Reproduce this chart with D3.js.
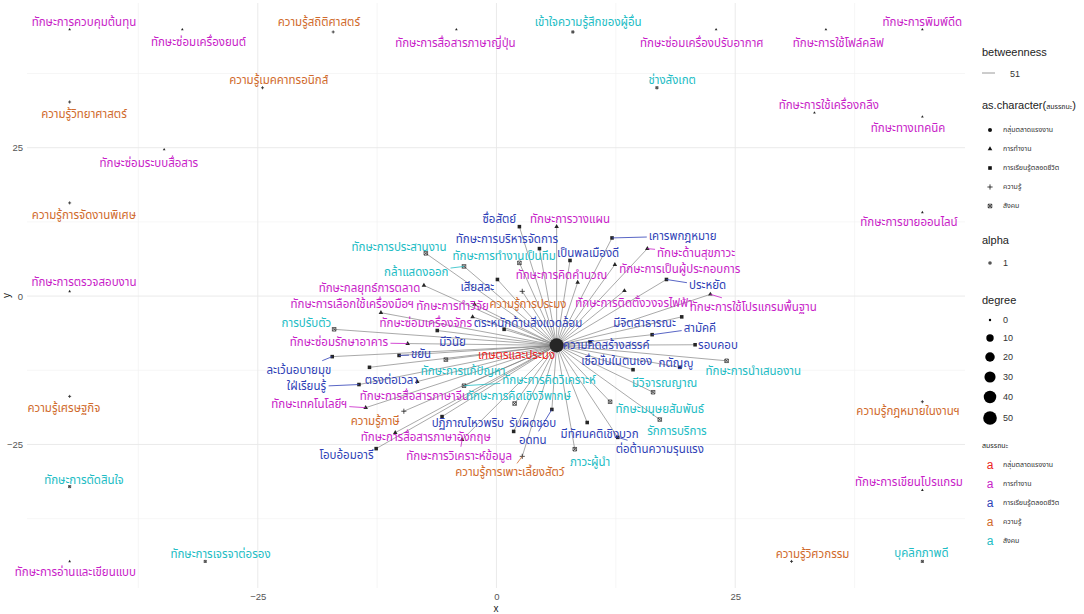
<!DOCTYPE html>
<html>
<head>
<meta charset="utf-8">
<script src="https://cdn.jsdelivr.net/npm/d3@7"></script>
<style>
  body { margin: 0; background: #fff; }
  svg { display: block; }
  .thai { font-family: "Noto Sans Thai", "Noto Sans Thai Looped", "Tahoma", "Leelawadee UI", "Garuda", "Loma", sans-serif; }
  .latin { font-family: "Liberation Sans", Arial, "DejaVu Sans", sans-serif; }
</style>
</head>
<body>
<svg id="chart" width="1084" height="614"></svg>
<script>
// ---- competency categories (สมรรถนะ) ----
const categories = ["กลุ่มตลาดแรงงาน", "การทำงาน", "การเรียนรู้ตลอดชีวิต", "ความรู้", "สังคม"];

// ---- hub node: [name, category index, x, y, label x, label y] ----
const hubNode = ["เกษตรและประมง", 0, 6.3, -8.3, 2.1, -10.0];

// ---- nodes linked to the hub: [name, category index, x, y, label x, label y] ----
const linkedNodes = [
  ["ซื่อสัตย์", 2, 2.4, 11.7, 0.3, 13.0],
  ["ทักษะการวางแผน", 1, 6.3, 11.7, 7.7, 13.0],
  ["ทักษะการบริหารจัดการ", 2, 4.5, 8.0, 1.1, 9.7],
  ["ทักษะการทำงานเป็นทีม", 4, 2.4, 5.6, 0.8, 6.8],
  ["เป็นพลเมืองดี", 2, 7.7, 6.0, 9.6, 7.3],
  ["เคารพกฎหมาย", 2, 12.1, 9.8, 19.5, 10.2],
  ["ทักษะด้านสุขภาวะ", 1, 15.8, 8.0, 20.9, 7.3],
  ["ทักษะการเป็นผู้ประกอบการ", 1, 12.4, 5.3, 19.2, 4.5],
  ["ทักษะการคิดคำนวณ", 1, 8.5, 2.3, 6.8, 3.5],
  ["ประหยัด", 2, 17.8, 2.8, 22.1, 1.8],
  ["ทักษะการใช้โปรแกรมพื้นฐาน", 1, 22.4, 0.3, 26.9, -1.8],
  ["ทักษะการติดตั้งวงจรไฟฟ้า", 1, 13.4, 0.9, 14.4, -1.1],
  ["ความรู้การประมง", 3, 2.7, 0.8, 3.3, -1.3],
  ["เสียสละ", 2, 0.1, 2.8, -2.0, 1.6],
  ["กล้าแสดงออก", 4, -3.4, 5.0, -8.4, 4.1],
  ["ทักษะการประสานงาน", 4, -7.4, 7.2, -10.2, 8.3],
  ["ทักษะกลยุทธ์การตลาด", 1, -7.6, 1.8, -13.3, 1.4],
  ["ทักษะการเลือกใช้เครื่องมือฯ", 1, -12.1, -2.8, -15.1, -1.3],
  ["ทักษะการทำวิจัย", 1, -2.3, -1.4, -4.6, -1.6],
  ["ทักษะซ่อมเครื่องจักร", 1, -2.5, -3.5, -7.4, -4.5],
  ["ตระหนักด้านสิ่งแวดล้อม", 2, 0.8, -5.6, 3.3, -4.5],
  ["มีจิตสาธารณะ", 2, 19.4, -3.5, 15.5, -4.5],
  ["การปรับตัว", 4, -17.0, -5.6, -19.9, -4.6],
  ["ทักษะซ่อมรักษาอาคาร", 1, -9.3, -8.0, -16.5, -7.7],
  ["มีวินัย", 2, -6.2, -5.8, -4.6, -7.7],
  ["ความคิดสร้างสรรค์", 2, 9.8, -7.7, 11.5, -8.2],
  ["สามัคคี", 2, 16.3, -6.5, 21.3, -5.3],
  ["รอบคอบ", 2, 20.8, -8.2, 23.2, -8.3],
  ["ขยัน", 2, -10.2, -10.0, -7.9, -9.8],
  ["ละเว้นอบายมุข", 2, -17.2, -10.2, -20.7, -12.4],
  ["ใฝ่เรียนรู้", 2, -14.4, -14.9, -19.9, -15.2],
  ["ตรงต่อเวลา", 2, -13.3, -12.0, -11.0, -14.1],
  ["ทักษะการแก้ปัญหา", 4, -5.3, -10.7, -3.5, -12.7],
  ["ทักษะการคิดวิเคราะห์", 4, -3.4, -15.1, 5.5, -14.1],
  ["ทักษะการสื่อสารภาษาจีน", 1, -8.3, -14.4, -8.6, -16.9],
  ["ทักษะการคิดเชิงวิพากษ์", 4, 1.9, -18.1, 2.3, -16.9],
  ["เชื่อมั่นในตนเอง", 2, 14.3, -12.4, 12.6, -11.0],
  ["กตัญญู", 2, 19.2, -12.0, 18.8, -11.2],
  ["ทักษะการนำเสนองาน", 4, 24.1, -10.9, 26.9, -12.7],
  ["มีวิจารณญาณ", 4, 16.4, -16.2, 17.6, -14.7],
  ["ทักษะมนุษยสัมพันธ์", 4, 11.9, -17.8, 17.1, -19.1],
  ["รักการบริการ", 4, 17.1, -20.8, 18.9, -22.8],
  ["ต่อต้านความรุนแรง", 2, 12.7, -23.8, 17.1, -25.8],
  ["มีทัศนคติเชิงบวก", 2, 9.5, -21.3, 10.8, -23.3],
  ["ภาวะผู้นำ", 4, 8.2, -25.8, 9.8, -27.9],
  ["ความรู้การเพาะเลี้ยงสัตว์", 3, 2.7, -27.0, 1.4, -29.7],
  ["อดทน", 2, 5.8, -19.1, 3.8, -24.3],
  ["รับผิดชอบ", 2, 1.8, -22.8, 3.8, -21.3],
  ["ทักษะการวิเคราะห์ข้อมูล", 1, -3.6, -24.2, -3.9, -26.9],
  ["ปฏิภาณไหวพริบ", 2, -5.7, -20.3, -3.0, -21.3],
  ["ทักษะการสื่อสารภาษาอังกฤษ", 1, -10.6, -23.0, -7.4, -23.8],
  ["ความรู้ภาษี", 3, -9.7, -19.4, -12.7, -21.1],
  ["โอบอ้อมอารี", 2, -12.6, -25.7, -15.7, -26.7],
  ["ทักษะเทคโนโลยีฯ", 1, -13.7, -18.8, -19.6, -18.1]
];

// ---- nodes without any link: [name, category index, x, y, label x, label y] ----
const isolatedNodes = [
  ["ทักษะการควบคุมต้นทุน", 1, -44.7, 44.9, -43.2, 46.2],
  ["ความรู้วิทยาศาสตร์", 3, -44.7, 32.7, -43.2, 30.7],
  ["ความรู้การจัดงานพิเศษ", 3, -44.7, 15.7, -43.2, 13.7],
  ["ทักษะการตรวจสอบงาน", 1, -44.7, 0.8, -43.2, 2.3],
  ["ความรู้เศรษฐกิจ", 3, -44.7, -16.9, -45.3, -18.8],
  ["ทักษะการตัดสินใจ", 4, -44.7, -32.1, -43.2, -30.9],
  ["ทักษะการอ่านและเขียนแบบ", 1, -44.7, -44.7, -44.1, -46.5],
  ["ทักษะซ่อมเครื่องยนต์", 1, -32.9, 44.9, -31.2, 42.8],
  ["ทักษะซ่อมระบบสื่อสาร", 1, -34.8, 24.7, -36.4, 22.5],
  ["ทักษะการเจรจาต่อรอง", 4, -30.5, -44.7, -28.9, -43.4],
  ["ความรู้สถิติศาสตร์", 3, -17.1, 44.5, -18.6, 46.2],
  ["ความรู้เมคคาทรอนิกส์", 3, -24.5, 35.1, -22.8, 36.4],
  ["ทักษะการสื่อสารภาษาญี่ปุ่น", 1, -4.2, 44.9, -4.3, 42.7],
  ["เข้าใจความรู้สึกของผู้อื่น", 4, 8.0, 44.5, 9.6, 46.2],
  ["ทักษะซ่อมเครื่องปรับอากาศ", 1, 23.0, 44.9, 21.5, 42.7],
  ["ทักษะการใช้โฟล์คลิฟ", 1, 34.5, 44.9, 35.8, 42.7],
  ["ทักษะการพิมพ์ดีด", 1, 44.6, 44.9, 44.6, 46.2],
  ["ช่างสังเกต", 4, 16.8, 35.1, 18.4, 36.4],
  ["ทักษะการใช้เครื่องกลึง", 1, 33.3, 30.9, 34.8, 32.2],
  ["ทักษะทางเทคนิค", 1, 44.6, 30.2, 43.1, 28.4],
  ["ทักษะการขายออนไลน์", 1, 44.6, 14.1, 43.2, 12.5],
  ["ความรู้กฎหมายในงานฯ", 3, 44.6, -17.8, 43.1, -19.3],
  ["ทักษะการเขียนโปรแกรม", 1, 44.6, -32.7, 43.2, -31.4],
  ["ความรู้วิศวกรรม", 3, 30.9, -44.7, 33.1, -43.5],
  ["บุคลิกภาพดี", 4, 44.6, -44.7, 44.5, -43.2]
];

// ---- edges: every one runs from the hub to these nodes ----
const hubEdgeTargets = [
  "ซื่อสัตย์", "ทักษะการวางแผน", "ทักษะการบริหารจัดการ", "ทักษะการทำงานเป็นทีม", "เป็นพลเมืองดี",
  "เคารพกฎหมาย", "ทักษะด้านสุขภาวะ", "ทักษะการเป็นผู้ประกอบการ", "ทักษะการคิดคำนวณ", "ประหยัด",
  "ทักษะการใช้โปรแกรมพื้นฐาน", "ทักษะการติดตั้งวงจรไฟฟ้า", "ความรู้การประมง", "เสียสละ", "กล้าแสดงออก",
  "ทักษะการประสานงาน", "ทักษะกลยุทธ์การตลาด", "ทักษะการเลือกใช้เครื่องมือฯ", "ทักษะการทำวิจัย",
  "ทักษะซ่อมเครื่องจักร", "ตระหนักด้านสิ่งแวดล้อม", "มีจิตสาธารณะ", "การปรับตัว", "ทักษะซ่อมรักษาอาคาร",
  "มีวินัย", "ความคิดสร้างสรรค์", "สามัคคี", "รอบคอบ", "ขยัน", "ละเว้นอบายมุข", "ใฝ่เรียนรู้",
  "ตรงต่อเวลา", "ทักษะการแก้ปัญหา", "ทักษะการคิดวิเคราะห์", "ทักษะการสื่อสารภาษาจีน",
  "ทักษะการคิดเชิงวิพากษ์", "เชื่อมั่นในตนเอง", "กตัญญู", "ทักษะการนำเสนองาน", "มีวิจารณญาณ",
  "ทักษะมนุษยสัมพันธ์", "รักการบริการ", "ต่อต้านความรุนแรง", "มีทัศนคติเชิงบวก", "ภาวะผู้นำ",
  "ความรู้การเพาะเลี้ยงสัตว์", "อดทน", "รับผิดชอบ", "ทักษะการวิเคราะห์ข้อมูล", "ปฏิภาณไหวพริบ",
  "ทักษะการสื่อสารภาษาอังกฤษ", "ความรู้ภาษี", "โอบอ้อมอารี", "ทักษะเทคโนโลยีฯ"
];
const edgeBetweenness = 51;

// ---- axis ticks and legend entries ----
const majorTicks = [-25, 0, 25];
const minorTicks = [-37.5, -12.5, 12.5, 37.5];
const degreeLegendValues = [0, 10, 20, 30, 40, 50];
const alphaLegendValues = [1];

// ================= drawing =================
const svg = d3.select("#chart");
const panel = { left: 27, right: 965, top: 3, bottom: 588 };

const toNode = r => ({ name: r[0], cat: r[1], x: r[2], y: r[3], lx: r[4], ly: r[5] });
const hub = toNode(hubNode);
const nodes = [hub, ...linkedNodes.map(toNode), ...isolatedNodes.map(toNode)];
const byName = new Map(nodes.map(n => [n.name, n]));
nodes.forEach(n => n.degree = 0);
const edges = hubEdgeTargets.map(t => ({ source: hub, target: byName.get(t), betweenness: edgeBetweenness }));
edges.forEach(e => { e.source.degree++; e.target.degree++; });

// 5% expansion around the layout extent, like ggplot's continuous scales
const expand = ext => { const d = (ext[1] - ext[0]) * 0.05; return [ext[0] - d, ext[1] + d]; };
const x = d3.scaleLinear().domain(expand(d3.extent(nodes, d => d.x))).range([panel.left, panel.right]);
const y = d3.scaleLinear().domain(expand(d3.extent(nodes, d => d.y))).range([panel.bottom, panel.top]);

const maxDegree = d3.max(nodes, d => d.degree);
const sizeScale = d3.scaleSqrt().domain([0, maxDegree]).range([1, 6]);   // ggplot size units
const PX_PER_SIZE = 2.35;
const color = d3.scaleOrdinal().domain(d3.range(categories.length))
  .range(["#EC2424", "#C81EC8", "#2F3FB6", "#D06A2C", "#22BCC4"]);
const shapeOf = d3.scaleOrdinal().domain(d3.range(categories.length))
  .range(["circle", "triangle", "square", "plus", "squareX"]);

// ---- grid ----
const grid = svg.append("g");
minorTicks.forEach(t => {
  grid.append("line").attr("x1", x(t)).attr("x2", x(t)).attr("y1", panel.top).attr("y2", panel.bottom)
    .attr("stroke", "#f0f0f0").attr("stroke-width", 0.6);
  grid.append("line").attr("y1", y(t)).attr("y2", y(t)).attr("x1", panel.left).attr("x2", panel.right)
    .attr("stroke", "#f0f0f0").attr("stroke-width", 0.6);
});
majorTicks.forEach(t => {
  grid.append("line").attr("x1", x(t)).attr("x2", x(t)).attr("y1", panel.top).attr("y2", panel.bottom)
    .attr("stroke", "#e8e8e8").attr("stroke-width", 0.9);
  grid.append("line").attr("y1", y(t)).attr("y2", y(t)).attr("x1", panel.left).attr("x2", panel.right)
    .attr("stroke", "#e8e8e8").attr("stroke-width", 0.9);
});

// ---- axes (labels only, minimal theme) ----
const xAxis = d3.axisBottom(x).tickValues(majorTicks).tickSize(0).tickPadding(5);
svg.append("g").attr("transform", `translate(0,${panel.bottom})`).call(xAxis)
  .call(g => g.select(".domain").remove())
  .call(g => g.selectAll("text").attr("class", "latin").attr("font-size", 9.5).attr("fill", "#555"));
const yAxis = d3.axisLeft(y).tickValues(majorTicks).tickSize(0).tickPadding(4);
svg.append("g").attr("transform", `translate(${panel.left},0)`).call(yAxis)
  .call(g => g.select(".domain").remove())
  .call(g => g.selectAll("text").attr("class", "latin").attr("font-size", 9.5).attr("fill", "#555"));
svg.append("text").attr("class", "latin").attr("x", (panel.left + panel.right) / 2).attr("y", 612)
  .attr("text-anchor", "middle").attr("font-size", 10).attr("fill", "#222").text("x");
svg.append("text").attr("class", "latin").attr("transform", `translate(10,${(panel.top + panel.bottom) / 2}) rotate(-90)`)
  .attr("text-anchor", "middle").attr("font-size", 10).attr("fill", "#222").text("y");

// ---- edges ----
const edgeWidth = d3.scaleLinear().domain([0, 100]).range([0.3, 1.2]);
svg.append("g").selectAll("line").data(edges).join("line")
  .attr("x1", d => x(d.source.x)).attr("y1", d => y(d.source.y))
  .attr("x2", d => x(d.target.x)).attr("y2", d => y(d.target.y))
  .attr("stroke", "#7a7a7a").attr("stroke-opacity", 0.85)
  .attr("stroke-width", d => edgeWidth(d.betweenness));

// ---- point glyphs ----
function drawShape(g, shape, cx, cy, d, fill) {
  if (shape === "circle") {
    g.append("circle").attr("cx", cx).attr("cy", cy).attr("r", d / 2).attr("fill", fill);
  } else if (shape === "triangle") {
    const s = d * 1.15, h = s * Math.sqrt(3) / 2;
    g.append("path").attr("d", `M${cx},${cy - h * 2 / 3}L${cx + s / 2},${cy + h / 3}L${cx - s / 2},${cy + h / 3}Z`).attr("fill", fill);
  } else if (shape === "square") {
    const s = d * 0.9;
    g.append("rect").attr("x", cx - s / 2).attr("y", cy - s / 2).attr("width", s).attr("height", s).attr("fill", fill);
  } else if (shape === "plus") {
    const r = d * 0.65;
    g.append("path").attr("d", `M${cx - r},${cy}H${cx + r}M${cx},${cy - r}V${cy + r}`)
      .attr("stroke", fill).attr("stroke-width", 0.8).attr("fill", "none");
  } else {
    const r = d * 0.45;
    g.append("path").attr("d", `M${cx - r},${cy - r}H${cx + r}V${cy + r}H${cx - r}ZM${cx - r},${cy - r}L${cx + r},${cy + r}M${cx + r},${cy - r}L${cx - r},${cy + r}`)
      .attr("stroke", fill).attr("stroke-width", 0.7).attr("fill", "none");
  }
}
const pointLayer = svg.append("g");
nodes.slice().sort((a, b) => a.degree - b.degree).forEach(n => {
  drawShape(pointLayer, shapeOf(n.cat), x(n.x), y(n.y), sizeScale(n.degree) * PX_PER_SIZE, "#262626");
});

// ---- labels with leader segments ----
const segLayer = svg.append("g");
const labelLayer = svg.append("g");
nodes.forEach(n => {
  const t = labelLayer.append("text").attr("class", "thai")
    .attr("x", x(n.lx)).attr("y", y(n.ly)).attr("dy", "0.35em")
    .attr("text-anchor", "middle").attr("font-size", 11.5)
    .attr("fill", color(n.cat)).text(n.name);
  const b = t.node().getBBox();
  const cx = b.x + b.width / 2, cy = b.y + b.height / 2;
  const hw = b.width / 2 + 2, hh = b.height / 2 + 1;
  const px = x(n.x), py = y(n.y);
  const dx = px - cx, dy = py - cy;
  const tt = Math.min(dx === 0 ? Infinity : hw / Math.abs(dx), dy === 0 ? Infinity : hh / Math.abs(dy));
  if (tt < 1) {
    const ex = cx + dx * tt, ey = cy + dy * tt;
    const len = Math.hypot(px - ex, py - ey);
    if (len > 7) {
      segLayer.append("line").attr("x1", ex).attr("y1", ey).attr("x2", px).attr("y2", py)
        .attr("stroke", color(n.cat)).attr("stroke-width", 0.8);
    }
  }
});

// ---- legends ----
const lg = svg.append("g");
const lx0 = 982, keyX = 990, txtX = 1003;
lg.append("text").attr("class", "latin").attr("x", lx0).attr("y", 56).attr("font-size", 11).attr("fill", "#222").text("betweenness");
lg.append("line").attr("x1", keyX - 8).attr("x2", keyX + 5).attr("y1", 73).attr("y2", 73)
  .attr("stroke", "#7a7a7a").attr("stroke-width", edgeWidth(edgeBetweenness));
lg.append("text").attr("class", "latin").attr("x", txtX + 7).attr("y", 76.5).attr("font-size", 9).attr("fill", "#333").text(edgeBetweenness);

const t2 = lg.append("text").attr("class", "latin").attr("x", lx0).attr("y", 109).attr("font-size", 11).attr("fill", "#222");
t2.append("tspan").text("as.character(");
t2.append("tspan").attr("class", "thai").attr("font-size", 7).text("สมรรถนะ");
t2.append("tspan").text(")");
categories.forEach((c, i) => {
  const yy = 130 + i * 19;
  drawShape(lg, shapeOf(i), keyX, yy, 4, "#111");
  lg.append("text").attr("class", "thai").attr("x", txtX).attr("y", yy).attr("dy", "0.35em")
    .attr("font-size", 7).attr("fill", "#333").text(c);
});

lg.append("text").attr("class", "latin").attr("x", lx0).attr("y", 244).attr("font-size", 11).attr("fill", "#222").text("alpha");
alphaLegendValues.forEach((v, i) => {
  lg.append("circle").attr("cx", keyX).attr("cy", 263 + i * 18).attr("r", 1.8).attr("fill", "#555");
  lg.append("text").attr("class", "latin").attr("x", txtX).attr("y", 263 + i * 18).attr("dy", "0.35em")
    .attr("font-size", 9).attr("fill", "#333").text(v);
});

lg.append("text").attr("class", "latin").attr("x", lx0).attr("y", 304).attr("font-size", 11).attr("fill", "#222").text("degree");
const degYs = [320, 338, 357, 377, 397, 418];
degreeLegendValues.forEach((v, i) => {
  lg.append("circle").attr("cx", keyX).attr("cy", degYs[i]).attr("r", sizeScale(v) * PX_PER_SIZE / 2).attr("fill", "#000");
  lg.append("text").attr("class", "latin").attr("x", txtX).attr("y", degYs[i]).attr("dy", "0.35em")
    .attr("font-size", 9).attr("fill", "#333").text(v);
});

lg.append("text").attr("class", "thai").attr("x", lx0).attr("y", 448).attr("font-size", 7).attr("fill", "#222").text("สมรรถนะ");
categories.forEach((c, i) => {
  const yy = 465 + i * 19;
  lg.append("text").attr("class", "latin").attr("x", keyX).attr("y", yy).attr("dy", "0.35em")
    .attr("text-anchor", "middle").attr("font-size", 12).attr("fill", color(i)).text("a");
  lg.append("text").attr("class", "thai").attr("x", txtX).attr("y", yy).attr("dy", "0.35em")
    .attr("font-size", 7).attr("fill", "#333").text(c);
});
</script>
</body>
</html>
